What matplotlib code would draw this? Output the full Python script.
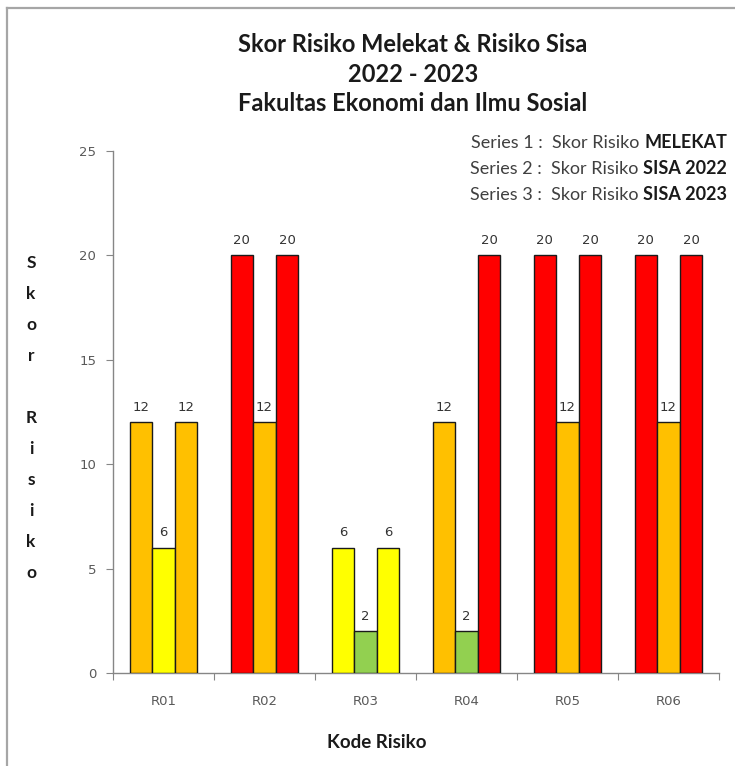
import matplotlib
matplotlib.use("Agg")
import matplotlib.pyplot as plt
from matplotlib.lines import Line2D
import numpy as np

plt.rcParams["font.family"] = ["Lato", "DejaVu Sans"]

# Skor risiko per kode risiko
kode_risiko = ["R01", "R02", "R03", "R04", "R05", "R06"]
skor_melekat = [12, 20, 6, 12, 20, 20]
skor_sisa_2022 = [6, 12, 2, 2, 12, 12]
skor_sisa_2023 = [12, 20, 6, 20, 20, 20]

# warna batang mengikuti level skor
warna_skor = {20: "#FF0000", 12: "#FFC000", 6: "#FFFF00", 2: "#92D050"}

judul = "Skor Risiko Melekat & Risiko Sisa\n2022 - 2023\nFakultas Ekonomi dan Ilmu Sosial"
keterangan = [
    ("Series 1 :  Skor Risiko", "MELEKAT"),
    ("Series 2 :  Skor Risiko", "SISA 2022"),
    ("Series 3 :  Skor Risiko", "SISA 2023"),
]

W, H = 735, 766
fig = plt.figure(figsize=(W / 100, H / 100), dpi=100)
ax = fig.add_axes([113 / W, 1 - 673 / H, 606 / W, 522 / H])

x = np.arange(len(kode_risiko))
lebar = 0.224
angka_font = "DejaVu Sans"

for i, seri in enumerate([skor_melekat, skor_sisa_2022, skor_sisa_2023]):
    pos = x + (i - 1) * lebar
    bars = ax.bar(pos, seri, lebar, color=[warna_skor[v] for v in seri],
                  edgecolor="#1a1a1a", linewidth=1.0, zorder=3)
    for b, v in zip(bars, seri):
        ax.text(b.get_x() + b.get_width() / 2, v + 0.4, str(v),
                ha="center", va="bottom", fontsize=9.5, color="#333333",
                family=angka_font)

ax.set_xlim(-0.5, len(kode_risiko) - 0.5)
ax.set_ylim(0, 25)
ax.set_yticks(range(0, 26, 5))

# tick di batas kategori, label di tengah
ax.set_xticks(np.arange(-0.5, len(kode_risiko), 1.0))
ax.set_xticklabels([])
ax.set_xticks(x, minor=True)
ax.set_xticklabels(kode_risiko, minor=True)
ax.tick_params(axis="x", which="major", length=5, color="#868686", direction="out")
ax.tick_params(axis="x", which="minor", length=0, pad=16, labelsize=9.5, labelcolor="#595959")
ax.tick_params(axis="y", length=5, color="#868686", pad=7, labelsize=9.5, labelcolor="#595959")
for lbl in ax.get_xticklabels(minor=True) + ax.get_yticklabels():
    lbl.set_family(angka_font)

for s in ["top", "right"]:
    ax.spines[s].set_visible(False)
for s in ["left", "bottom"]:
    ax.spines[s].set_color("#868686")
    ax.spines[s].set_linewidth(1.0)

fig.text(413 / W, 1 - 74 / H, judul, ha="center", va="center",
         fontsize=17, fontweight="bold", color="#1a1a1a", linespacing=1.33)

# ket. seri: bagian tebal rata kanan, bagian biasa menempel di kirinya
for k, (biasa, tebal) in enumerate(keterangan):
    y = 1 - (143 + 26 * k) / H
    t_bold = fig.text(727 / W, y, tebal, ha="right", va="center",
                      fontsize=13, fontweight="bold", color="#1a1a1a")
    ax.annotate(biasa, xy=(0, 0.5), xycoords=t_bold,
                xytext=(-3.5, 0), textcoords="offset points",
                ha="right", va="center", fontsize=13, color="#404040",
                annotation_clip=False)

fig.text(31 / W, 1 - 418 / H, "S\nk\no\nr\n\nR\ni\ns\ni\nk\no",
         ha="center", va="center", fontsize=12.5, fontweight="bold",
         color="#1a1a1a", linespacing=2.15)
fig.text(377 / W, 1 - 742 / H, "Kode Risiko", ha="center", va="center",
         fontsize=13.5, fontweight="bold", color="#1a1a1a")

# garis bingkai atas dan kiri
fig.add_artist(Line2D([7 / W, 1], [1 - 8 / H, 1 - 8 / H], transform=fig.transFigure,
                      color="#A6A6A6", linewidth=1.6))
fig.add_artist(Line2D([7 / W, 7 / W], [0, 1 - 8 / H], transform=fig.transFigure,
                      color="#A6A6A6", linewidth=1.6))

fig.savefig("out.png", dpi=100)
